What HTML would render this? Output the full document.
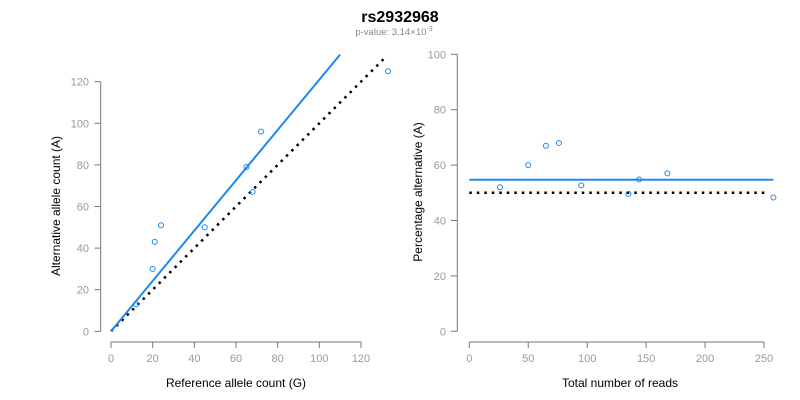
<!DOCTYPE html>
<html><head><meta charset="utf-8"><style>
body{margin:0;background:#fff;}
svg{display:block;font-family:"Liberation Sans",Arial,sans-serif;}
.tick{fill:#999;font-size:11px;}
.ax{stroke:#777;stroke-width:1;fill:none;}
.t{fill:#000;font-size:12px;}
</style></head><body>
<svg id="c" width="800" height="400">
<text x="400" y="22" text-anchor="middle" font-size="16" font-weight="bold">rs2932968</text>
<text x="394" y="35" text-anchor="middle" font-size="9.5" fill="#888">p-value: 3.14×10<tspan dy="-4" font-size="7">-3</tspan></text>
<g id="L"></g>
<g id="R"></g>
</svg>
<script>
const refCounts=[12,20,21,24,45,65,68,72,133];
const altCounts=[13,30,43,51,50,79,67,96,125];
const leftTicks=[0,20,40,60,80,100,120];
const fitSlope=1.21, fitEnd=110, diagEnd=132;
const totalReads=[26,50,65,76,95,135,144,168,258];
const pctAlt=[52,60,67,68,52.7,49.6,54.8,57,48.3];
const rightXTicks=[0,50,100,150,200,250];
const rightYTicks=[0,20,40,60,80,100];
const meanPct=54.7, nullPct=50, fitMaxX=258;

const NS="http://www.w3.org/2000/svg";
function mk(p,t,a,txt){const e=document.createElementNS(NS,t);for(const k in a)e.setAttribute(k,a[k]);if(txt!==undefined)e.textContent=txt;p.appendChild(e);return e;}

// Left
const L=document.getElementById('L');
const lx=v=>111+v*250/120, ly=v=>331.3-v*249.6/120;
let e=mk(L,'path',{class:'ax',d:`M100.7,${ly(0)}V${ly(120)}`});

e=mk(L,'path',{class:'ax',d:`M${lx(0)},342H${lx(120)}`});

leftTicks.forEach(v=>{
 mk(L,'line',{class:'ax',x1:94.5,x2:100.7,y1:ly(v),y2:ly(v)});
 e=mk(L,'text',{class:'tick',x:89,y:ly(v)+4,'text-anchor':'end'},v);
 
 mk(L,'line',{class:'ax',x1:lx(v),x2:lx(v),y1:342,y2:348});
 e=mk(L,'text',{class:'tick',x:lx(v),y:362,'text-anchor':'middle'},v);
 
});
e=mk(L,'line',{x1:lx(0),y1:ly(0),x2:lx(diagEnd),y2:ly(diagEnd),stroke:'#000','stroke-width':2.5,'stroke-dasharray':'2.5,5'});

e=mk(L,'line',{x1:lx(0),y1:ly(0),x2:lx(fitEnd),y2:ly(fitEnd*fitSlope),stroke:'#1e88ee','stroke-width':2});

refCounts.forEach((v,i)=>{e=mk(L,'circle',{cx:lx(v),cy:ly(altCounts[i]),r:2.5,fill:'none',stroke:'#1e88ee','stroke-width':1});
 });
e=mk(L,'text',{class:'t',x:236,y:387,'text-anchor':'middle'},'Reference allele count (G)');

e=mk(L,'text',{class:'t',transform:'translate(60,206) rotate(-90)','text-anchor':'middle'},'Alternative allele count (A)');


// Right
const R=document.getElementById('R');
const rx=v=>469.3+v*(764-469.3)/250, ry=v=>331.3-v*277/100;
e=mk(R,'path',{class:'ax',d:`M457.3,${ry(0)}V${ry(100)}`});

e=mk(R,'path',{class:'ax',d:`M${rx(0)},342H${rx(250)}`});

rightYTicks.forEach(v=>{
 mk(R,'line',{class:'ax',x1:451,x2:457.3,y1:ry(v),y2:ry(v)});
 e=mk(R,'text',{class:'tick',x:446,y:ry(v)+4,'text-anchor':'end'},v);
 
});
rightXTicks.forEach(v=>{
 mk(R,'line',{class:'ax',x1:rx(v),x2:rx(v),y1:342,y2:348});
 e=mk(R,'text',{class:'tick',x:rx(v),y:362,'text-anchor':'middle'},v);
 
});
e=mk(R,'line',{x1:rx(0),y1:ry(nullPct),x2:rx(252),y2:ry(nullPct),stroke:'#000','stroke-width':2.5,'stroke-dasharray':'2.5,5'});

e=mk(R,'line',{x1:rx(0),y1:ry(meanPct),x2:rx(fitMaxX),y2:ry(meanPct),stroke:'#1e88ee','stroke-width':2});

totalReads.forEach((v,i)=>{e=mk(R,'circle',{cx:rx(v),cy:ry(pctAlt[i]),r:2.5,fill:'none',stroke:'#1e88ee','stroke-width':1});
 });
e=mk(R,'text',{class:'t',x:620,y:387,'text-anchor':'middle'},'Total number of reads');

e=mk(R,'text',{class:'t',transform:'translate(422,192) rotate(-90)','text-anchor':'middle'},'Percentage alternative (A)');

</script>
</body></html>
